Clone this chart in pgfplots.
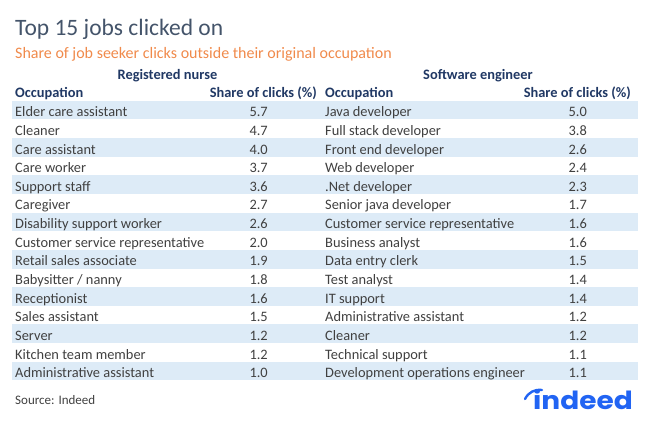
\documentclass[border=0pt]{standalone}
\usepackage{fontspec}
\setmainfont{Carlito}
\newfontfamily\logofont{Poppins}
\usepackage{pgfplots}
\pgfplotsset{compat=1.18}
\usepackage{pgfplotstable}

\definecolor{titlegrey}{HTML}{44546A}
\definecolor{suborange}{HTML}{F08A4B}
\definecolor{headnavy}{HTML}{203864}
\definecolor{bodytext}{HTML}{404040}
\definecolor{band}{HTML}{DDEBF7}
\definecolor{indeedblue}{HTML}{2164F3}

\newcommand\body{\fontsize{14.4}{17}\selectfont}

% top 15 jobs clicked on, by original occupation
\pgfplotstableread[col sep=comma]{
nurse,nv,soft,sv
Elder care assistant,5.7,Java developer,5.0
Cleaner,4.7,Full stack developer,3.8
Care assistant,4.0,Front end developer,2.6
Care worker,3.7,Web developer,2.4
Support staff,3.6,.Net developer,2.3
Caregiver,2.7,Senior java developer,1.7
Disability support worker,2.6,Customer service representative,1.6
Customer service representative,2.0,Business analyst,1.6
Retail sales associate,1.9,Data entry clerk,1.5
Babysitter / nanny,1.8,Test analyst,1.4
Receptionist,1.6,IT support,1.4
Sales assistant,1.5,Administrative assistant,1.2
Server,1.2,Cleaner,1.2
Kitchen team member,1.2,Technical support,1.1
Administrative assistant,1.0,Development operations engineer,1.1
}\jobs

\begin{document}
\begin{tikzpicture}
\begin{axis}[
    scale only axis,
    width=649pt, height=426pt,
    xmin=0, xmax=649, ymin=0, ymax=426,
    y dir=reverse,
    axis lines=none,
    clip=false,
    point meta=explicit symbolic,
    nodes near coords,
    nodes near coords style={inner sep=0pt, text=bodytext, font=\body},
]
% keep the whole canvas
\path (rel axis cs:0,0) rectangle (rel axis cs:1,1);
% shaded rows
\pgfplotsinvokeforeach{0,2,...,14}{
  \addplot[band, line width=18.65pt, mark=none, nodes near coords={}] coordinates {(12,{110+18.65*#1}) (638,{110+18.65*#1})};
}
% left table
\addplot[draw=none, mark=none, nodes near coords style={anchor=base west}]
  table[x expr=15, y expr={116.7+18.65*\coordindex}, meta=nurse] {\jobs};
\addplot[draw=none, mark=none, nodes near coords style={anchor=base east}]
  table[x expr=268, y expr={116.7+18.65*\coordindex}, meta=nv] {\jobs};
% right table
\addplot[draw=none, mark=none, nodes near coords style={anchor=base west}]
  table[x expr=325, y expr={116.7+18.65*\coordindex}, meta=soft] {\jobs};
\addplot[draw=none, mark=none, nodes near coords style={anchor=base east}]
  table[x expr=587, y expr={116.7+18.65*\coordindex}, meta=sv] {\jobs};

% titles and headers
\node[anchor=base west, inner sep=0pt, text=titlegrey, font=\fontsize{23.5}{27}\selectfont] at (axis cs:15,35) {Top 15 jobs clicked on};
\node[anchor=base west, inner sep=0pt, text=suborange, font=\fontsize{16}{19}\selectfont] at (axis cs:15,58.5) {Share of job seeker clicks outside their original occupation};
\node[anchor=base, inner sep=0pt, text=headnavy, font=\body\bfseries] at (axis cs:167.5,79) {Registered nurse};
\node[anchor=base, inner sep=0pt, text=headnavy, font=\body\bfseries] at (axis cs:478,79) {Software engineer};
\node[anchor=base west, inner sep=0pt, text=headnavy, font=\body\bfseries] at (axis cs:15,97.5) {Occupation};
\node[anchor=base east, inner sep=0pt, text=headnavy, font=\body\bfseries] at (axis cs:317,97.5) {Share of clicks (\%)};
\node[anchor=base west, inner sep=0pt, text=headnavy, font=\body\bfseries] at (axis cs:325,97.5) {Occupation};
\node[anchor=base east, inner sep=0pt, text=headnavy, font=\body\bfseries] at (axis cs:631,97.5) {Share of clicks (\%)};

% source and logo
\node[anchor=base west, inner sep=0pt, text=bodytext, font=\fontsize{13}{16}\selectfont] at (axis cs:15,404.5) {Source: Indeed};
\node[anchor=base east, inner sep=0pt, text=indeedblue, font=\logofont\fontsize{25}{28}\selectfont\bfseries, xscale=1.12] at (axis cs:633,409) {indeed};
\draw[indeedblue, line width=2.4pt, line cap=round] (axis cs:525,399) to[bend left=35] (axis cs:542,390);
\end{axis}
\end{tikzpicture}
\end{document}
